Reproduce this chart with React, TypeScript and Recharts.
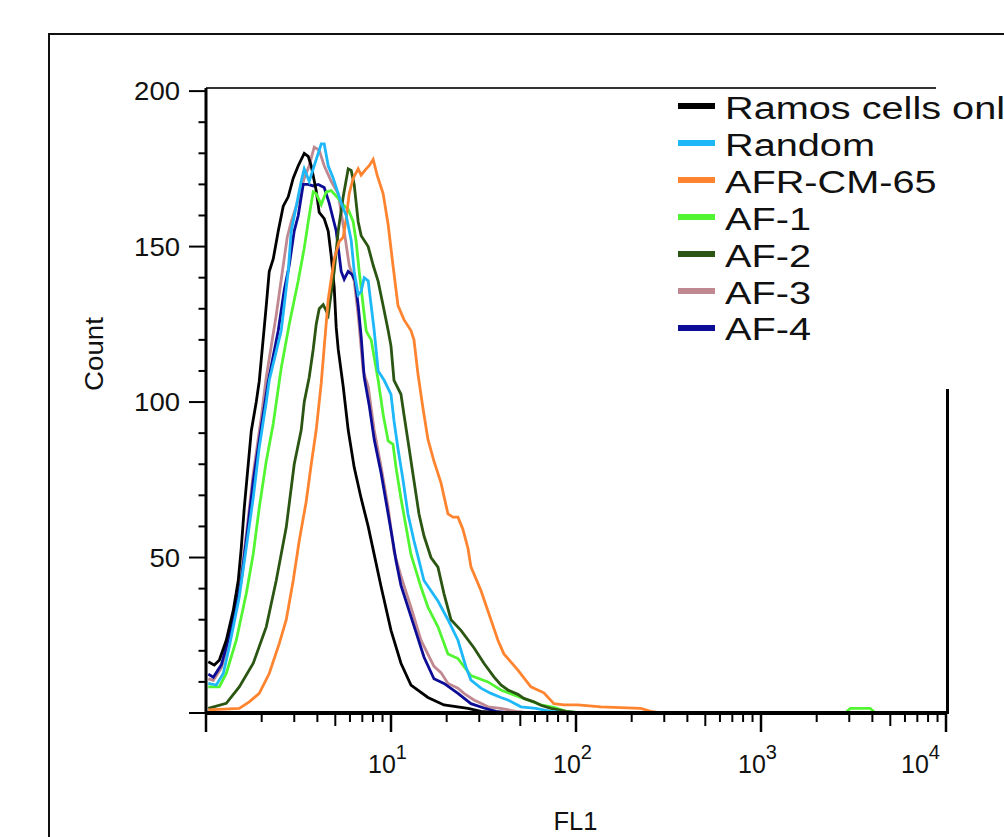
import React from 'react';
import { LineChart, Line, XAxis, YAxis, Legend } from 'recharts';

const FONT = '"Liberation Sans", Arial, Helvetica, sans-serif';

type Pt = [number, number];

// FL1 intensity vs Count
const ramosCellsOnly: Pt[] = [
  [1.029, 16.5], [1.109, 15.4], [1.18, 17], [1.287, 23.4], [1.404, 33], [1.494, 42.6], [1.551, 53], [1.61, 66],
  [1.692, 80], [1.757, 90.7], [1.869, 100], [1.94, 106.7], [2.065, 124], [2.117, 131], [2.197, 142], [2.309, 146],
  [2.458, 155], [2.615, 163], [2.783, 166], [2.961, 172], [3.152, 176], [3.396, 180], [3.569, 179], [3.705, 176],
  [3.942, 168], [4.092, 161], [4.355, 159], [4.577, 155], [4.751, 147], [4.931, 137], [5.056, 124], [5.183, 117],
  [5.516, 105], [5.87, 91], [6.324, 79], [6.9, 69], [7.527, 60], [8.11, 51], [8.848, 40.5], [10.0, 26.6],
  [11.32, 16], [12.82, 9], [15.84, 5], [19.33, 2.6], [26.06, 1.5], [30.63, 0.5], [39.28, 0], [10000, 0],
];

const random: Pt[] = [
  [1.029, 9.5], [1.137, 9], [1.24, 12.7], [1.336, 21.3], [1.513, 37.3], [1.651, 53.3], [1.801, 69.3], [1.94, 85.4],
  [2.117, 100], [2.197, 107], [2.368, 115], [2.551, 123], [2.783, 142], [2.889, 155], [3.074, 163], [3.271, 171],
  [3.396, 175], [3.613, 171], [3.894, 177], [4.195, 183], [4.355, 183], [4.577, 176], [4.871, 172], [5.183, 167],
  [5.38, 164], [5.725, 160], [6.093, 152], [6.324, 142], [6.647, 134.5], [6.9, 135.6], [7.162, 140], [7.527, 139],
  [7.813, 131], [8.11, 123], [8.524, 110], [9.184, 107], [10.0, 102.5], [10.38, 94], [10.91, 85], [11.61, 75],
  [12.35, 64], [13.31, 55.4], [14.17, 49], [15.07, 42.6], [17.94, 36], [20.32, 30], [23.01, 23.4], [25.42, 14.8],
  [27.05, 10.6], [30.63, 8], [34.69, 6.3], [39.28, 5], [42.85, 4.2], [50.37, 2], [60.7, 1.5], [73.14, 0.5],
  [88.13, 0], [10000, 0],
];

const afrCm65: Pt[] = [
  [1.029, 1], [1.513, 1.5], [1.713, 3.6], [1.94, 6.3], [2.197, 12.7], [2.488, 22.3], [2.715, 30], [2.961, 42.6],
  [3.191, 55.4], [3.481, 68], [3.705, 80], [3.942, 91], [4.195, 106], [4.577, 133], [4.931, 146], [5.248, 151.6],
  [5.516, 153], [5.725, 159], [5.943, 167], [6.246, 172], [6.647, 175], [6.9, 173], [7.342, 175], [7.621, 176],
  [8.01, 178], [8.419, 173], [9.071, 167], [9.653, 157], [10.25, 144], [10.91, 131], [11.75, 126.5], [12.82, 123],
  [13.31, 120], [13.99, 109], [14.89, 98], [15.84, 88], [17.07, 81], [18.63, 74], [20.32, 64], [21.62, 63],
  [23.01, 63], [24.49, 59], [26.06, 53], [27.05, 47], [30.63, 39.4], [34.69, 30], [37.84, 23.4], [40.77, 19],
  [48.53, 13.8], [57.04, 8.4], [67.05, 6.5], [75.92, 3], [85.97, 2.6], [102.3, 2.6], [136.2, 2], [223.9, 1.5],
  [253.5, 0.5], [287.1, 0], [10000, 0],
];

const af1: Pt[] = [
  [1.029, 8.4], [1.18, 8.4], [1.287, 12.7], [1.458, 23.4], [1.651, 38.4], [1.801, 51.2], [1.94, 66], [2.117, 81],
  [2.309, 93], [2.551, 111], [2.818, 125], [3.152, 139], [3.396, 149.5], [3.613, 160], [3.798, 167.6], [3.942, 167],
  [4.195, 163.5], [4.464, 167.6], [4.751, 168], [5.183, 165.5], [5.516, 163.4], [5.87, 162], [6.246, 158],
  [6.484, 151.6], [6.73, 142], [7.074, 131], [7.342, 123], [7.527, 121.7], [7.813, 120], [8.524, 107], [9.071, 96],
  [9.653, 87.5], [10.25, 86.4], [10.64, 79], [11.32, 69], [12.05, 60], [12.82, 51], [14.52, 40.5], [15.84, 34],
  [17.94, 27.7], [20.32, 19], [23.01, 17.5], [27.05, 12], [33.42, 10], [39.28, 7.4], [46.17, 5.8], [54.95, 4.2],
  [64.59, 2.6], [75.92, 1.8], [88.13, 0.5], [106.2, 0], [2855, 0], [3037, 1.5], [3894, 1.5], [4143, 0], [10000, 0],
];

const af2: Pt[] = [
  [1.029, 1.5], [1.287, 3.1], [1.513, 8.4], [1.801, 16], [2.117, 27.7], [2.397, 42.6], [2.715, 59.7], [2.998, 80],
  [3.271, 91], [3.396, 100], [3.613, 108], [3.798, 117], [3.942, 125], [4.092, 130], [4.301, 131.3], [4.577, 128],
  [4.931, 142], [5.183, 155], [5.516, 166], [5.87, 175], [6.093, 174.5], [6.324, 170], [6.647, 158], [6.9, 153.5],
  [7.527, 150], [8.01, 144], [8.524, 138.8], [9.071, 131], [9.653, 123], [10.0, 118], [10.38, 107], [11.32, 102.5],
  [11.75, 96], [12.51, 85.4], [13.31, 74.7], [14.17, 64], [15.07, 57], [16.45, 50], [17.94, 46.9], [19.33, 38.4],
  [21.09, 30], [23.88, 26.6], [28.07, 21], [31.79, 16], [36.0, 11.6], [39.28, 9], [42.85, 7.4], [48.53, 6],
  [52.28, 4.7], [59.21, 3.6], [64.59, 2.5], [73.14, 1.5], [88.13, 0.5], [106.2, 0], [10000, 0],
];

const af3: Pt[] = [
  [1.029, 11], [1.095, 10.5], [1.21, 14.5], [1.287, 20], [1.404, 30], [1.551, 44], [1.671, 60], [1.801, 77],
  [1.989, 95], [2.117, 108], [2.253, 118], [2.397, 128], [2.615, 144], [2.749, 153], [2.889, 158], [3.152, 165],
  [3.396, 172], [3.613, 176], [3.845, 182], [4.092, 181], [4.355, 176], [4.751, 171], [5.183, 167], [5.584, 155],
  [5.943, 144], [6.324, 139], [6.647, 128], [7.074, 110], [7.527, 105], [8.11, 91], [8.848, 79], [9.653, 66],
  [10.38, 52], [11.32, 44], [12.82, 34], [14.52, 23.4], [17.07, 15], [18.63, 13], [20.32, 9.5], [23.01, 8],
  [24.79, 6.3], [28.07, 4.2], [30.63, 3.1], [33.42, 2], [39.28, 1.5], [47.33, 0.5], [57.04, 0], [10000, 0],
];

const af4: Pt[] = [
  [1.029, 12.5], [1.095, 11.5], [1.21, 15.5], [1.287, 21.3], [1.404, 30], [1.551, 42.6], [1.671, 58], [1.801, 74.7],
  [1.989, 92], [2.17, 106.7], [2.458, 123], [2.648, 136], [2.818, 144], [2.998, 155], [3.152, 160], [3.354, 170],
  [3.569, 170], [3.798, 169.5], [4.042, 170], [4.355, 169], [4.634, 164], [5.056, 155], [5.38, 142], [5.584, 139.5],
  [5.87, 142], [6.169, 141], [6.404, 139], [6.647, 131], [6.9, 121], [7.162, 108], [7.621, 99], [8.11, 88],
  [8.848, 77], [9.653, 64], [10.25, 55], [10.64, 49], [11.32, 41], [13.31, 28], [15.07, 18], [17.07, 11],
  [19.33, 9.5], [23.01, 6.3], [27.05, 3], [31.79, 1.6], [36.91, 0.5], [44.48, 0], [10000, 0],
];

const seriesNames = ['Ramos cells only', 'Random', 'AFR-CM-65', 'AF-1', 'AF-2', 'AF-3', 'AF-4'];
const seriesColors = ['#000000', '#1EB8F8', '#FF8430', '#52F532', '#2B5512', '#C08890', '#0C0C96'];
const seriesData: Pt[][] = [ramosCellsOnly, random, afrCm65, af1, af2, af3, af4];
const drawOrder = [5, 6, 0, 3, 4, 2, 1];

const xTicks = [
  1, 2, 3, 4, 5, 6, 7, 8, 9,
  10, 20, 30, 40, 50, 60, 70, 80, 90,
  100, 200, 300, 400, 500, 600, 700, 800, 900,
  1000, 2000, 3000, 4000, 5000, 6000, 7000, 8000, 9000,
  10000,
];
const xMajorTicks = [1, 10, 100, 1000, 10000];
const xMidTicks = [5, 50, 500, 5000];
const xTickBase: Record<number, string> = { 10: '10', 100: '10', 1000: '10', 10000: '10' };
const xTickExp: Record<number, string> = { 10: '1', 100: '2', 1000: '3', 10000: '4' };

const yTicks = [0, 10, 20, 30, 40, 50, 60, 70, 80, 90, 100, 110, 120, 130, 140, 150, 160, 170, 180, 190, 200];
const yMajorTicks = [0, 50, 100, 150, 200];
const yTickLabels: Record<number, string> = { 50: '50', 100: '100', 150: '150', 200: '200' };

const xAxisTitle = 'FL1';
const yAxisTitle = 'Count';

function XTick(props: any) {
  const { x, y, payload } = props;
  const v = payload.value;
  const major = xMajorTicks.includes(v);
  const mid = xMidTicks.includes(v);
  const len = major ? 19 : mid ? 13 : 9;
  const base = xTickBase[v];
  const isLast = v === xTicks[xTicks.length - 1];
  return (
    <g>
      <line x1={x} x2={x} y1={y} y2={y + len} stroke="#000" strokeWidth={major ? 2.5 : 2} />
      {base && (
        <text x={isLast ? x - 45 : x - 23} y={y + 60} fontFamily={FONT} fontSize={25} fill="#111">
          {base}
          <tspan dy={-14} fontSize={20}>{xTickExp[v]}</tspan>
        </text>
      )}
    </g>
  );
}

function YTick(props: any) {
  const { x, y, payload } = props;
  const v = payload.value;
  const major = yMajorTicks.includes(v);
  const lab = yTickLabels[v];
  return (
    <g>
      <line x1={x - (major ? 17 : 7.5)} x2={x} y1={y} y2={y} stroke="#000" strokeWidth={2} />
      {lab && (
        <text
          x={x - 26}
          y={y + 9}
          textAnchor="end"
          fontFamily={FONT}
          fontSize={25}
          fill="#111"
          textLength={lab.length * 15.3}
          lengthAdjust="spacingAndGlyphs"
        >
          {lab}
        </text>
      )}
    </g>
  );
}

function YTitle() {
  return (
    <text
      x={103}
      y={354}
      transform="rotate(-90, 103, 354)"
      textAnchor="middle"
      fontFamily={FONT}
      fontSize={25}
      fill="#111"
      textLength={74}
      lengthAdjust="spacingAndGlyphs"
    >
      {yAxisTitle}
    </text>
  );
}

function XTitle() {
  return (
    <text x={575.5} y={830} textAnchor="middle" fontFamily={FONT} fontSize={25.5} fill="#111">
      {xAxisTitle}
    </text>
  );
}

function LegendBox() {
  return (
    <div style={{ fontFamily: FONT }}>
      {seriesNames.map((n, i) => (
        <div
          key={n}
          style={{ height: 36.93, display: 'flex', alignItems: 'center', whiteSpace: 'nowrap' }}
        >
          <div style={{ width: 37, height: 6, background: seriesColors[i], flex: 'none' }} />
          <span
            style={{
              marginLeft: 10,
              fontSize: 31,
              lineHeight: '31px',
              display: 'inline-block',
              transform: 'scaleX(1.28)',
              transformOrigin: 'left center',
              position: 'relative',
              top: 2,
              color: '#111',
            }}
          >
            {n}
          </span>
        </div>
      ))}
    </div>
  );
}

export default function App() {
  return (
    <div
      style={{
        position: 'absolute',
        left: 0,
        top: 0,
        width: 1004,
        height: 837,
        overflow: 'hidden',
        background: '#fff',
        fontFamily: FONT,
      }}
    >
      <div
        style={{
          position: 'absolute',
          left: 48,
          top: 33,
          width: 1100,
          height: 1000,
          borderTop: '2px solid #111',
          borderLeft: '2px solid #111',
        }}
      />
      <div style={{ position: 'absolute', left: 206, top: 87, width: 730, height: 2, background: '#333' }} />
      <div style={{ position: 'absolute', left: 946, top: 389, width: 3, height: 325, background: '#000' }} />
      <div style={{ position: 'absolute', left: 0, top: 0 }}>
        <LineChart width={1004} height={837} margin={{ top: 88, right: 58, bottom: 64, left: 126 }}>
          <XAxis
            type="number"
            dataKey="x"
            scale="log"
            domain={[1, 10000]}
            allowDataOverflow
            ticks={xTicks}
            interval={0}
            tick={(p: any) => <XTick {...p} />}
            tickLine={false}
            tickSize={0}
            tickMargin={0}
            axisLine={{ stroke: '#000', strokeWidth: 4 }}
            height={60}
            label={<XTitle />}
          />
          <YAxis
            type="number"
            domain={[0, 201]}
            ticks={yTicks}
            interval={0}
            tick={(p: any) => <YTick {...p} />}
            tickLine={false}
            tickSize={0}
            tickMargin={0}
            axisLine={{ stroke: '#000', strokeWidth: 3 }}
            width={80}
            label={<YTitle />}
          />
          <Legend
            layout="vertical"
            align="center"
            verticalAlign="middle"
            wrapperStyle={{ left: 678, top: 88, width: 326 }}
            content={() => <LegendBox />}
          />
          {drawOrder.map((i) => (
            <Line
              key={seriesNames[i]}
              name={seriesNames[i]}
              data={seriesData[i].map(([x, y]) => ({ x, y }))}
              dataKey="y"
              type="linear"
              stroke={seriesColors[i]}
              strokeWidth={2.8}
              dot={false}
              activeDot={false}
              isAnimationActive={false}
              legendType="none"
            />
          ))}
        </LineChart>
      </div>
    </div>
  );
}
